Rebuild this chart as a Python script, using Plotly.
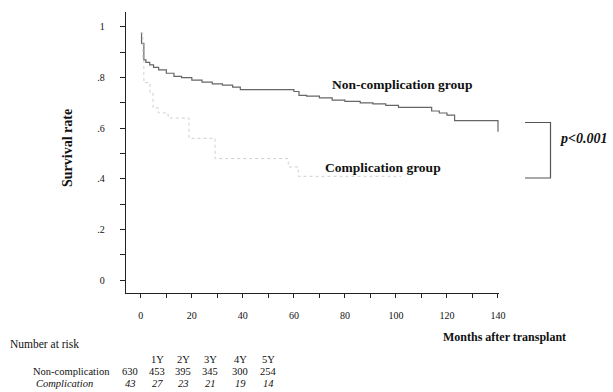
import plotly.graph_objects as go

# ---- data ----
noncomp_months = [0, 0.3, 1.2, 2, 3.5, 5, 7, 10, 13, 16, 20, 24, 28, 32, 36, 39, 45, 52, 58, 60, 62, 65, 70, 75, 80, 86, 91, 96, 101, 106, 112, 114, 117, 120, 123, 140]
noncomp_surv = [0.976, 0.935, 0.87, 0.86, 0.85, 0.84, 0.83, 0.817, 0.805, 0.80, 0.79, 0.782, 0.775, 0.77, 0.762, 0.752, 0.752, 0.752, 0.752, 0.745, 0.73, 0.727, 0.72, 0.711, 0.706, 0.70, 0.696, 0.69, 0.682, 0.682, 0.682, 0.668, 0.66, 0.652, 0.63, 0.586]

comp_months = [0, 0.8, 1.2, 3.6, 4.8, 6.9, 10.7, 18.9, 29.1, 57.8, 61.7, 102]
comp_surv = [0.976, 0.87, 0.78, 0.74, 0.68, 0.66, 0.64, 0.56, 0.48, 0.447, 0.41, 0.41]

x_ticks = list(range(0, 141, 10))
x_labels = ["0", "", "20", "", "40", "", "60", "", "80", "", "100", "", "120", "", "140"]
y_ticks = [i / 10 for i in range(0, 11)]
y_labels = ["0", "", ".2", "", ".4", "", ".6", "", ".8", "", "1"]

risk_years = ["1Y", "2Y", "3Y", "4Y", "5Y"]
noncomp_risk = [630, 453, 395, 345, 300, 254]
comp_risk = [43, 27, 23, 21, 19, 14]

# ---- layout geometry ----
W, H = 613, 392
L, R, T, B = 126, 114, 12, 99
PW, PH = W - L - R, H - T - B


def px(x):
    return (x - L) / PW


def py(y):
    return 1 - (y - T) / PH


SERIF = "Liberation Serif, Times New Roman, serif"
TXT = "#111"

fig = go.Figure()
fig.add_trace(go.Scatter(x=noncomp_months, y=noncomp_surv, mode="lines",
                         line=dict(shape="hv", color="#666666", width=1.2),
                         showlegend=False, hoverinfo="skip"))
fig.add_trace(go.Scatter(x=comp_months, y=comp_surv, mode="lines",
                         line=dict(shape="hv", color="#cfcfcf", width=1.0, dash="dot"),
                         showlegend=False, hoverinfo="skip"))


def note(x, y, text, size, anchor="center", angle=0):
    return dict(x=px(x), y=py(y), text=text, showarrow=False, textangle=angle,
                xref="paper", yref="paper", xanchor=anchor, yanchor="middle",
                font=dict(family=SERIF, size=size, color=TXT))


TS = 10.5
ann = [
    note(402, 85, "<b>Non-complication group</b>", 13.5),
    note(383, 167, "<b>Complication group</b>", 13.5),
    note(558, 138, "<b><i>p&lt;0.001</i></b>", 14, "left"),
    note(67, 148, "<b>Survival rate</b>", 14, angle=-90),
    note(504, 337, "<b>Months after transplant</b>", 12),
    note(8, 344, "Number at risk", 11.5, "left"),
    note(112, 371.5, "Non-complication", TS, "right"),
    note(64, 383.5, "<i>Complication</i>", TS),
]

col_x = [130, 157, 183, 210, 240, 268]
for i, lab in enumerate(risk_years):
    ann.append(note(col_x[i + 1], 359.5, lab, TS))
for i, v in enumerate(noncomp_risk):
    ann.append(note(col_x[i], 371.5, str(v), TS))
for i, v in enumerate(comp_risk):
    ann.append(note(col_x[i], 383.5, f"<i>{v}</i>", TS))

# p-value bracket
shapes = [
    dict(type="path", xref="paper", yref="paper",
         path=f"M {px(525)},{py(122.5)} L {px(550.5)},{py(122.5)} L {px(550.5)},{py(178)} L {px(525)},{py(178)}",
         line=dict(color="#555", width=1.2)),
]

fig.update_layout(
    width=W, height=H,
    margin=dict(l=L, r=R, t=T, b=B),
    paper_bgcolor="white", plot_bgcolor="white",
    annotations=ann, shapes=shapes,
    xaxis=dict(range=[-5.8, 140.4], tickvals=x_ticks, ticktext=x_labels,
               ticks="outside", ticklen=4, tickwidth=1, tickcolor="#222",
               showline=True, linecolor="#222", linewidth=1.3,
               showgrid=False, zeroline=False, ticklabelstandoff=9,
               tickfont=dict(family=SERIF, size=10, color=TXT)),
    yaxis=dict(range=[-0.051, 1.059], tickvals=y_ticks, ticktext=y_labels,
               ticks="outside", ticklen=5, tickwidth=1, tickcolor="#222",
               showline=True, linecolor="#222", linewidth=1.3,
               showgrid=False, zeroline=False, ticklabelstandoff=13,
               tickfont=dict(family=SERIF, size=10, color=TXT)),
)

fig.write_html("out.html")
